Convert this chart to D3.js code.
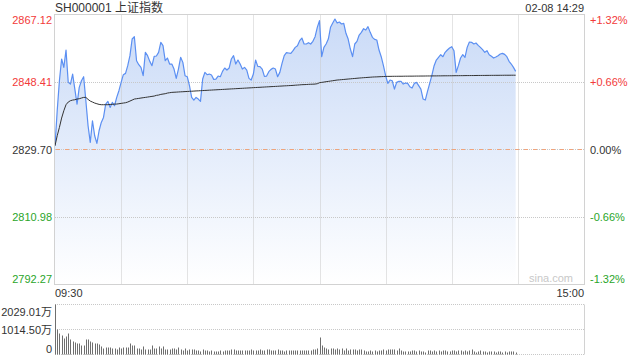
<!DOCTYPE html>
<html><head><meta charset="utf-8">
<script src="https://cdn.jsdelivr.net/npm/d3@7"></script>
<style>
html,body{margin:0;padding:0;background:#fff;}
svg{display:block;font-family:Arial,"Liberation Sans","Noto Sans CJK SC",sans-serif;}
</style></head><body>
<svg id="chart" width="640" height="360"></svg>
<script>
const title = "SH000001 上证指数";
const stamp = "02-08 14:29";
const prevClose = 2829.70;
const priceTicks = [2867.12, 2848.41, 2829.70, 2810.98, 2792.27];
const pctTicks = ["+1.32%", "+0.66%", "0.00%", "-0.66%", "-1.32%"];
const timeLabels = ["09:30", "15:00"];
const volTickValues = [2029.01, 1014.50, 0];
const volTickLabels = ["2029.01万", "1014.50万", "0"];
const watermark = "sina.com";

const prices = [
 2830.73,2840.44,2848.76,2854.78,2852.46,2857.27,2848.30,2847.84,2850.61,2846.45,
 2842.29,2846.92,2848.76,2849.87,2843.22,2836.28,2831.66,2837.67,2833.51,2831.38,
 2834.89,2837.20,2838.59,2842.29,2843.03,2841.37,2842.75,2841.83,2844.14,2845.99,
 2848.30,2850.43,2850.80,2852.93,2855.70,2860.32,2860.97,2854.31,2853.20,2852.46,
 2850.15,2856.63,2855.70,2854.13,2852.93,2855.52,2855.61,2856.63,2859.40,2858.47,
 2854.31,2855.05,2853.39,2853.39,2852.00,2849.41,2852.00,2855.24,2853.85,2850.15,
 2849.87,2847.38,2844.14,2843.40,2844.14,2843.68,2843.03,2849.23,2851.08,2850.43,
 2850.61,2850.34,2849.13,2849.23,2850.06,2849.87,2851.35,2852.28,2851.72,2852.28,
 2854.78,2855.70,2853.39,2854.50,2853.39,2852.00,2852.46,2851.72,2849.41,2848.95,
 2850.61,2854.50,2852.74,2852.65,2852.00,2849.97,2850.06,2851.26,2851.91,2852.28,
 2852.00,2849.87,2851.08,2853.57,2855.70,2856.53,2856.44,2856.35,2857.09,2858.01,
 2858.47,2859.86,2860.60,2858.94,2858.94,2859.31,2858.94,2859.68,2860.97,2863.56,
 2865.41,2855.42,2858.01,2858.94,2860.32,2863.56,2864.76,2865.87,2864.76,2865.04,
 2864.49,2864.67,2861.90,2860.32,2857.55,2855.42,2858.94,2859.68,2861.43,2862.17,
 2863.19,2862.82,2863.75,2862.17,2860.79,2860.23,2860.05,2857.27,2855.42,2852.93,
 2850.15,2848.02,2848.95,2848.76,2846.45,2848.30,2848.58,2848.58,2847.84,2848.12,
 2848.02,2847.10,2846.73,2848.02,2848.30,2847.38,2846.45,2843.68,2843.40,2845.81,
 2848.02,2850.34,2852.93,2854.50,2855.24,2855.98,2855.42,2856.63,2857.27,2857.83,
 2858.20,2857.09,2851.08,2852.93,2855.05,2855.98,2855.24,2858.01,2859.49,2859.40,
 2858.94,2859.21,2858.57,2858.01,2857.37,2856.63,2857.09,2855.98,2855.52,2855.05,
 2855.33,2855.70,2856.16,2856.35,2856.07,2855.42,2854.13,2853.39,2852.46,2851.35
];

const avgPrices = [
 2830.73,2833.51,2835.82,2838.41,2840.44,2842.11,2842.85,2843.22,2843.40,2843.49,
 2843.68,2843.77,2843.96,2844.14,2844.14,2843.59,2843.12,2842.85,2842.57,2842.38,
 2842.20,2842.11,2842.11,2842.11,2842.11,2842.20,2842.20,2842.29,2842.29,2842.38,
 2842.48,2842.57,2842.66,2842.85,2843.12,2843.40,2843.68,2843.77,2843.86,2843.96,
 2844.05,2844.14,2844.23,2844.33,2844.42,2844.51,2844.70,2844.79,2844.97,2845.07,
 2845.16,2845.34,2845.44,2845.53,2845.57,2845.60,2845.64,2845.68,2845.71,2845.75,
 2845.78,2845.82,2845.85,2845.89,2845.93,2845.96,2846.00,2846.03,2846.07,2846.10,
 2846.14,2846.17,2846.21,2846.24,2846.28,2846.31,2846.35,2846.38,2846.42,2846.45,
 2846.49,2846.52,2846.56,2846.59,2846.63,2846.66,2846.70,2846.73,2846.77,2846.80,
 2846.84,2846.87,2846.91,2846.94,2846.98,2847.01,2847.05,2847.08,2847.12,2847.15,
 2847.19,2847.22,2847.26,2847.29,2847.33,2847.36,2847.40,2847.43,2847.47,2847.52,
 2847.56,2847.61,2847.66,2847.68,2847.71,2847.75,2847.78,2847.80,2847.84,2847.93,
 2848.21,2848.30,2848.39,2848.49,2848.58,2848.67,2848.76,2848.86,2848.95,2849.00,
 2849.06,2849.11,2849.17,2849.23,2849.28,2849.34,2849.39,2849.45,2849.50,2849.55,
 2849.60,2849.64,2849.69,2849.73,2849.78,2849.81,2849.83,2849.86,2849.89,2849.92,
 2849.95,2849.97,2849.97,2849.98,2849.99,2849.99,2850.00,2850.00,2850.01,2850.02,
 2850.02,2850.03,2850.03,2850.04,2850.05,2850.05,2850.06,2850.06,2850.07,2850.08,
 2850.08,2850.09,2850.10,2850.10,2850.11,2850.11,2850.12,2850.13,2850.13,2850.14,
 2850.14,2850.15,2850.16,2850.16,2850.17,2850.17,2850.18,2850.19,2850.19,2850.20,
 2850.20,2850.21,2850.22,2850.22,2850.23,2850.23,2850.24,2850.24,2850.25,2850.25,
 2850.26,2850.26,2850.27,2850.27,2850.28,2850.28,2850.28,2850.29,2850.29,2850.29
];

const volumes = [
 2029.01,1014,852,771,649,730,852,609,528,487,
 446,446,365,365,609,609,528,487,446,446,
 406,325,243,284,284,284,243,243,203,284,
 243,284,284,284,446,365,365,243,243,203,
 325,203,203,203,365,243,243,325,243,325,
 203,203,203,243,243,203,284,203,162,243,
 162,203,203,203,162,162,122,203,162,162,
 122,162,122,122,122,162,122,162,162,162,
 203,203,162,162,162,162,162,162,162,203,
 162,162,162,203,162,162,203,203,162,162,
 162,203,162,162,122,162,162,162,162,162,
 162,162,162,162,162,162,162,203,203,243,
 690,365,284,243,203,243,243,203,243,203,
 243,162,243,162,203,203,203,162,203,203,
 162,122,122,162,122,162,122,162,162,203,
 162,203,203,203,203,162,243,162,122,122,
 122,122,162,162,122,162,122,122,81,162,
 162,122,162,122,162,122,162,162,122,122,
 162,162,122,162,162,122,162,122,162,203,
 122,81,122,162,122,122,81,122,122,122,
 81,122,122,81,122,81,122,122,122,81
];

const RED = "#f23a3a", GREEN = "#2aa52a", DARK = "#333";
const L = 55, R = 584, T = 14.5, B = 284.5;
const svg = d3.select("#chart");

const x = d3.scaleLinear().domain([0, 240]).range([L, R]);
const y = d3.scaleLinear().domain([priceTicks[4], priceTicks[0]]).range([B, T]);
const vy = d3.scaleLinear().domain([0, volTickValues[0]]).range([354.5, 304.5]);
const px = v => Math.round(v) + 0.5;

// gradient
const defs = svg.append("defs");
const grad = defs.append("linearGradient").attr("id", "fillGrad")
  .attr("gradientUnits", "userSpaceOnUse").attr("x1", 0).attr("x2", 0).attr("y1", T).attr("y2", B);
grad.append("stop").attr("offset", 0).attr("stop-color", "#c9daf7");
grad.append("stop").attr("offset", 1).attr("stop-color", "#ffffff");

// area
const area = d3.area().x((d, i) => x(i)).y0(B).y1(d => y(d));
svg.append("path").datum(prices).attr("d", area).attr("fill", "url(#fillGrad)");

// grid
const gridColor = "#c8c8c8";
const g = svg.append("g").attr("stroke", gridColor).attr("stroke-width", 1).attr("stroke-dasharray", "1,1").attr("fill", "none");
d3.range(30, 240, 30).forEach(i => {
  g.append("line").attr("x1", px(x(i))).attr("x2", px(x(i))).attr("y1", T).attr("y2", B);
});
[priceTicks[1], priceTicks[3], priceTicks[2]].forEach(v => {
  g.append("line").attr("x1", L).attr("x2", R).attr("y1", px(y(v))).attr("y2", px(y(v)));
});
svg.append("line").attr("x1", L + 1).attr("x2", R).attr("y1", px(y(prevClose))).attr("y2", px(y(prevClose)))
  .attr("stroke", "#f0a47c").attr("stroke-width", 1).attr("stroke-dasharray", "4,5");

// lines
const line = d3.line().x((d, i) => x(i)).y(d => y(d));
svg.append("path").datum(prices).attr("d", line).attr("fill", "none")
  .attr("stroke", "#5b8ff2").attr("stroke-width", 1.2).attr("stroke-linejoin", "round");
svg.append("path").datum(avgPrices).attr("d", line).attr("fill", "none")
  .attr("stroke", "#333").attr("stroke-width", 1);

// frame
svg.append("rect").attr("x", L - 0.5).attr("y", T).attr("width", R - L + 1).attr("height", B - T)
  .attr("fill", "none").attr("stroke", "#d2d2d2");

// axes
const fontSize = 11;
const colorFor = v => v > prevClose ? RED : (v < prevClose ? GREEN : DARK);
function styleAxis(sel, colors, shifts) {
  sel.select(".domain").remove();
  sel.selectAll("text").attr("font-size", fontSize)
    .attr("font-family", 'Arial,"Liberation Sans","Noto Sans CJK SC",sans-serif')
    .attr("fill", (d, i) => colors[i])
    .attr("transform", (d, i) => `translate(0,${shifts[i]})`);
}
const shifts = [5.5, 0, 0, 0, -6];
const leftAxis = svg.append("g").attr("transform", `translate(${L},0)`)
  .call(d3.axisLeft(y).tickValues(priceTicks).tickSize(0).tickPadding(3).tickFormat(d3.format(".2f")));
styleAxis(leftAxis, priceTicks.map(colorFor), shifts);
const rightAxis = svg.append("g").attr("transform", `translate(${R},0)`)
  .call(d3.axisRight(y).tickValues(priceTicks).tickSize(0).tickPadding(6).tickFormat((d, i) => pctTicks[i]));
styleAxis(rightAxis, priceTicks.map(colorFor), shifts);

// title + stamp
svg.append("text").attr("x", L).attr("y", 12).attr("font-size", 12).attr("fill", DARK).text(title);
svg.append("text").attr("x", R).attr("y", 12).attr("font-size", 11).attr("fill", DARK)
  .attr("text-anchor", "end").text(stamp);

// time labels
svg.append("text").attr("x", x(0)).attr("y", 297).attr("font-size", 11).attr("fill", DARK).text(timeLabels[0]);
svg.append("text").attr("x", x(240)).attr("y", 297).attr("font-size", 11).attr("fill", DARK)
  .attr("text-anchor", "end").text(timeLabels[1]);

// watermark
svg.append("text").attr("x", 573).attr("y", 282).attr("font-size", 11).attr("fill", "#c8c8c8")
  .attr("text-anchor", "end").text(watermark);

// volume panel
const vg = svg.append("g").attr("stroke", gridColor).attr("stroke-dasharray", "1,1").attr("fill", "none");
volTickValues.forEach(v => {
  vg.append("line").attr("x1", L).attr("x2", R).attr("y1", vy(v)).attr("y2", vy(v));
});
svg.append("line").attr("x1", R + 0.5).attr("x2", R + 0.5).attr("y1", vy(volTickValues[0])).attr("y2", vy(0))
  .attr("stroke", "#d2d2d2");
svg.append("g").selectAll("line").data(volumes).join("line")
  .attr("x1", (d, i) => px(x(i))).attr("x2", (d, i) => px(x(i)))
  .attr("y1", vy(0)).attr("y2", d => vy(d))
  .attr("stroke", "#6e6e6e").attr("stroke-width", 1);
const volAxis = svg.append("g").attr("transform", `translate(${L},0)`)
  .call(d3.axisLeft(vy).tickValues(volTickValues).tickSize(0).tickPadding(3).tickFormat((d, i) => volTickLabels[i]));
styleAxis(volAxis, [DARK, DARK, DARK], [7, 0, -6]);
</script>
</body></html>
